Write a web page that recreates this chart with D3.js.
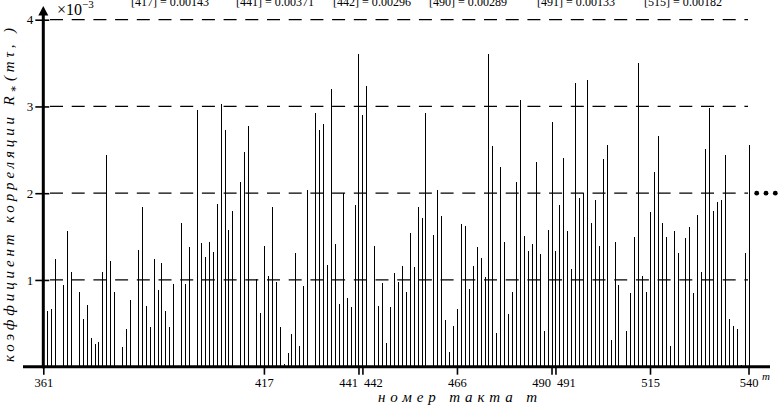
<!DOCTYPE html>
<html><head><meta charset="utf-8">
<script src="https://cdn.jsdelivr.net/npm/d3@7"></script>
<style>
html,body{margin:0;padding:0;background:#fff;}
svg{display:block;}
text{font-family:"Liberation Serif","DejaVu Serif",serif;fill:#000;}
</style></head>
<body>
<svg id="chart" width="778" height="408"></svg>
<script>
// step numbers m that have a bar
const steps = [362,363,364,366,367,368,370,371,372,373,374,375,376,377,378,379,381,382,383,385,386,387,388,389,390,391,392,393,394,396,397,398,400,401,402,403,404,405,406,407,408,409,411,412,413,415,416,417,418,419,420,421,422,423,424,425,426,427,428,430,431,432,433,434,435,436,437,438,439,440,441,442,443,445,446,447,448,449,450,451,452,453,454,455,456,457,458,460,461,462,463,464,465,466,467,468,469,470,471,472,473,474,475,476,477,478,479,480,481,482,483,484,485,486,487,488,489,490,491,492,493,494,495,496,497,498,499,500,501,502,503,504,505,506,507,509,510,511,512,513,514,515,516,517,518,519,520,521,522,524,525,526,527,528,529,530,531,532,533,534,535,536,537,538,539,540];
// correlation coefficient values (x10^-3)
const values = [0.64,0.66,1.245,0.94,1.57,1.09,0.86,0.55,0.71,0.33,0.26,0.28,1.09,2.44,1.22,0.86,0.23,0.44,0.77,1.34,1.84,0.70,0.46,1.245,0.88,1.19,0.64,0.46,0.95,1.66,0.95,1.38,2.96,1.43,1.26,1.44,1.32,1.87,3.03,2.73,1.58,1.79,2.13,2.48,2.78,1.01,0.62,1.39,1.05,1.84,0.98,0.46,0.03,0.16,0.38,1.31,0.24,0.93,2.04,2.93,2.73,2.80,1.17,3.20,1.42,0.72,2.00,0.79,0.69,1.86,3.61,2.90,3.23,1.39,0.70,0.96,0.27,0.69,1.08,0.98,1.16,0.86,1.54,1.15,1.84,1.71,2.93,1.52,2.04,1.74,0.54,0.17,0.47,0.67,1.65,1.62,0.89,1.16,1.38,1.25,1.03,3.61,2.54,0.39,2.30,1.44,0.61,0.86,2.13,3.08,1.51,1.33,1.42,2.36,1.30,0.41,1.58,2.82,1.33,1.86,2.41,1.56,1.13,3.27,1.94,2.00,3.30,1.66,1.92,1.39,2.39,2.55,0.31,1.44,0.94,0.41,0.85,1.49,3.50,1.05,0.86,1.78,2.24,2.66,1.66,1.49,0.24,1.57,1.31,1.48,1.61,0.85,1.75,1.09,2.51,2.98,1.79,1.90,1.92,2.44,0.55,0.47,0.44,0.02,1.31,2.55];
const xTicks = [361,417,441,442,466,490,491,515,540];
const yTicks = [1,2,3,4];
const topNotes = ["[417] = 0.00143","[441] = 0.00371","[442] = 0.00296","[490] = 0.00289","[491] = 0.00133","[515] = 0.00182"];
const topNoteX = [131,236,333,429,537,644];

const svg = d3.select("#chart");
const x = d3.scaleLinear().domain([361,540]).range([43.3,748.5]);
const y = d3.scaleLinear().domain([0,4]).range([366.7,19.7]);

// gridlines
svg.append("g").selectAll("line").data(yTicks).join("line")
  .attr("x1",50).attr("x2",748)
  .attr("y1",d=>y(d)).attr("y2",d=>y(d))
  .attr("stroke","#000").attr("stroke-width",1.3)
  .attr("stroke-dasharray","13,8.7");

// bars
svg.append("g").selectAll("line").data(steps).join("line")
  .attr("x1",d=>Math.round(x(d))+0.5).attr("x2",d=>Math.round(x(d))+0.5)
  .attr("y1",y(0)).attr("y2",(d,i)=>y(values[i]))
  .attr("stroke","#000").attr("stroke-width",1)
  .attr("shape-rendering","crispEdges");

// x axis
const xAxis = svg.append("g").attr("transform",`translate(0,${y(0)})`)
  .call(d3.axisBottom(x).tickValues(xTicks).tickSize(8).tickPadding(3).tickFormat(d3.format("d")));
xAxis.select(".domain").remove();
xAxis.selectAll(".tick line").attr("stroke","#000").attr("stroke-width",1.6);
xAxis.selectAll(".tick text").attr("font-size",12.5).attr("font-family","Liberation Serif")
  .attr("text-anchor",d=> (d===441||d===490)?"end":(d===442||d===491)?"start":"middle")
  .attr("dx",d=> (d===441||d===490)?"-1":(d===442||d===491)?"1":"0");
svg.append("line").attr("x1",23).attr("x2",770).attr("y1",y(0)).attr("y2",y(0))
  .attr("stroke","#000").attr("stroke-width",3);
svg.append("text").attr("x",762).attr("y",380).attr("font-size",11).attr("font-style","italic").text("m");

// y axis
const yAxis = svg.append("g").attr("transform","translate(43.3,0)")
  .call(d3.axisLeft(y).tickValues(yTicks).tickSize(8).tickPadding(2).tickFormat(d3.format("d")));
yAxis.select(".domain").remove();
yAxis.selectAll(".tick line").attr("stroke","#000").attr("stroke-width",1.6).attr("x2",-8).attr("x1",6);
yAxis.selectAll(".tick text").attr("font-size",13).attr("font-family","Liberation Serif");
svg.append("line").attr("x1",43.3).attr("x2",43.3).attr("y1",y(0)+1.5).attr("y2",12)
  .attr("stroke","#000").attr("stroke-width",3);
svg.append("path").attr("d","M38.3,15.5 L43.3,6 L48.3,15.5 Z").attr("fill","#000");

// multiplier
const mult = svg.append("text").attr("x",57).attr("y",15).attr("font-size",16);
mult.append("tspan").text("×10");
mult.append("tspan").attr("font-size",11).attr("dy",-7).text("−3");

// top notes (clipped at top edge as in the source)
svg.append("g").selectAll("text").data(topNotes).join("text")
  .attr("x",(d,i)=>topNoteX[i]).attr("y",6).attr("font-size",13)
  .attr("textLength",78).attr("lengthAdjust","spacingAndGlyphs").text(d=>d);

// ellipsis
svg.append("g").selectAll("circle").data([756.7,766,775.3]).join("circle")
  .attr("cx",d=>d).attr("cy",y(2)).attr("r",2.4).attr("fill","#000");

// axis titles
svg.append("text").attr("x",378).attr("y",402).attr("font-size",15).attr("font-style","italic")
  .attr("textLength",159).attr("lengthAdjust","spacing").text("номер такта m");
const yt = svg.append("text").attr("transform","translate(14,362) rotate(-90)")
  .attr("font-size",15).attr("font-style","italic")
  .attr("textLength",334).attr("lengthAdjust","spacing");
yt.append("tspan").text("коэффициент корреляции R");
yt.append("tspan").attr("font-size",11).attr("dy",3).text("∗");
yt.append("tspan").attr("dy",-3).text("(mτ, )");
</script>
</body></html>
